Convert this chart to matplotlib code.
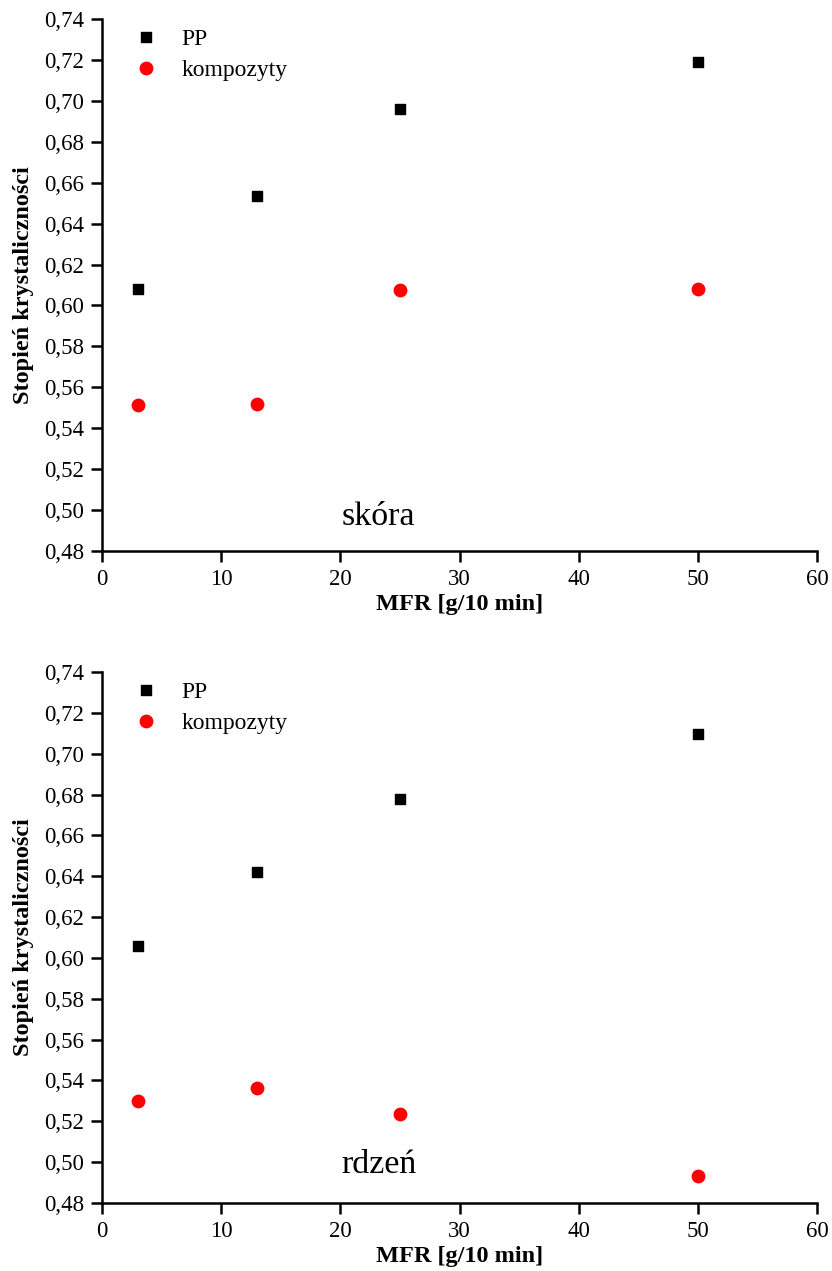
import matplotlib
matplotlib.use("Agg")
import matplotlib.pyplot as plt
from matplotlib.ticker import FuncFormatter

plt.rcParams['font.family'] = ['Liberation Serif', 'DejaVu Serif']

# MFR values
mfr = [3, 13, 25, 50]

# skora (skin)
pp_skora = [0.608, 0.6535, 0.696, 0.719]
komp_skora = [0.5513, 0.5518, 0.6075, 0.608]

# rdzen (core)
pp_rdzen = [0.606, 0.642, 0.678, 0.7095]
komp_rdzen = [0.530, 0.5363, 0.5235, 0.493]

yticks = [0.48, 0.50, 0.52, 0.54, 0.56, 0.58, 0.60, 0.62, 0.64, 0.66, 0.68, 0.70, 0.72, 0.74]
xticks = [0, 10, 20, 30, 40, 50, 60]

fig = plt.figure(figsize=(8.32, 12.71), dpi=100)
ax1 = fig.add_axes([0.1226, 0.5665, 0.8594, 0.4185])
ax2 = fig.add_axes([0.1226, 0.0535, 0.8594, 0.4178])

comma = FuncFormatter(lambda v, p: f"{v:.2f}".replace('.', ','))

def draw(ax, pp, komp, label, ly):
    ax.scatter(mfr, pp, marker='s', s=62, color='black', label='PP', zorder=3)
    ax.scatter(mfr, komp, marker='o', s=80, color='#ff0000', label='kompozyty', zorder=3)
    ax.set_xlim(0, 60)
    ax.set_ylim(0.48, 0.74)
    ax.set_xticks(xticks)
    ax.set_yticks(yticks)
    ax.yaxis.set_major_formatter(comma)
    ax.spines['top'].set_visible(False)
    ax.spines['right'].set_visible(False)
    ax.spines['left'].set_linewidth(1.8)
    ax.spines['bottom'].set_linewidth(1.8)
    ax.tick_params(direction='out', length=8, width=1.8, labelsize=16.5, pad=5)
    ax.set_xlabel('MFR [g/10 min]', fontsize=17.5, fontweight='bold', labelpad=3)
    ax.set_ylabel('Stopień krystaliczności', fontsize=17.5, fontweight='bold', labelpad=7)
    ax.text(20.1, ly, label, fontsize=24.5, ha='left', va='center')
    ax.legend(loc='upper left', bbox_to_anchor=(0.015, 1.022), frameon=False,
              fontsize=17, handlelength=1.0, handletextpad=1.0, labelspacing=0.4,
              scatteryoffsets=[0.5])

draw(ax1, pp_skora, komp_skora, 'skóra', 0.4965)
draw(ax2, pp_rdzen, komp_rdzen, 'rdzeń', 0.4986)

fig.savefig('out.png', dpi=100)
